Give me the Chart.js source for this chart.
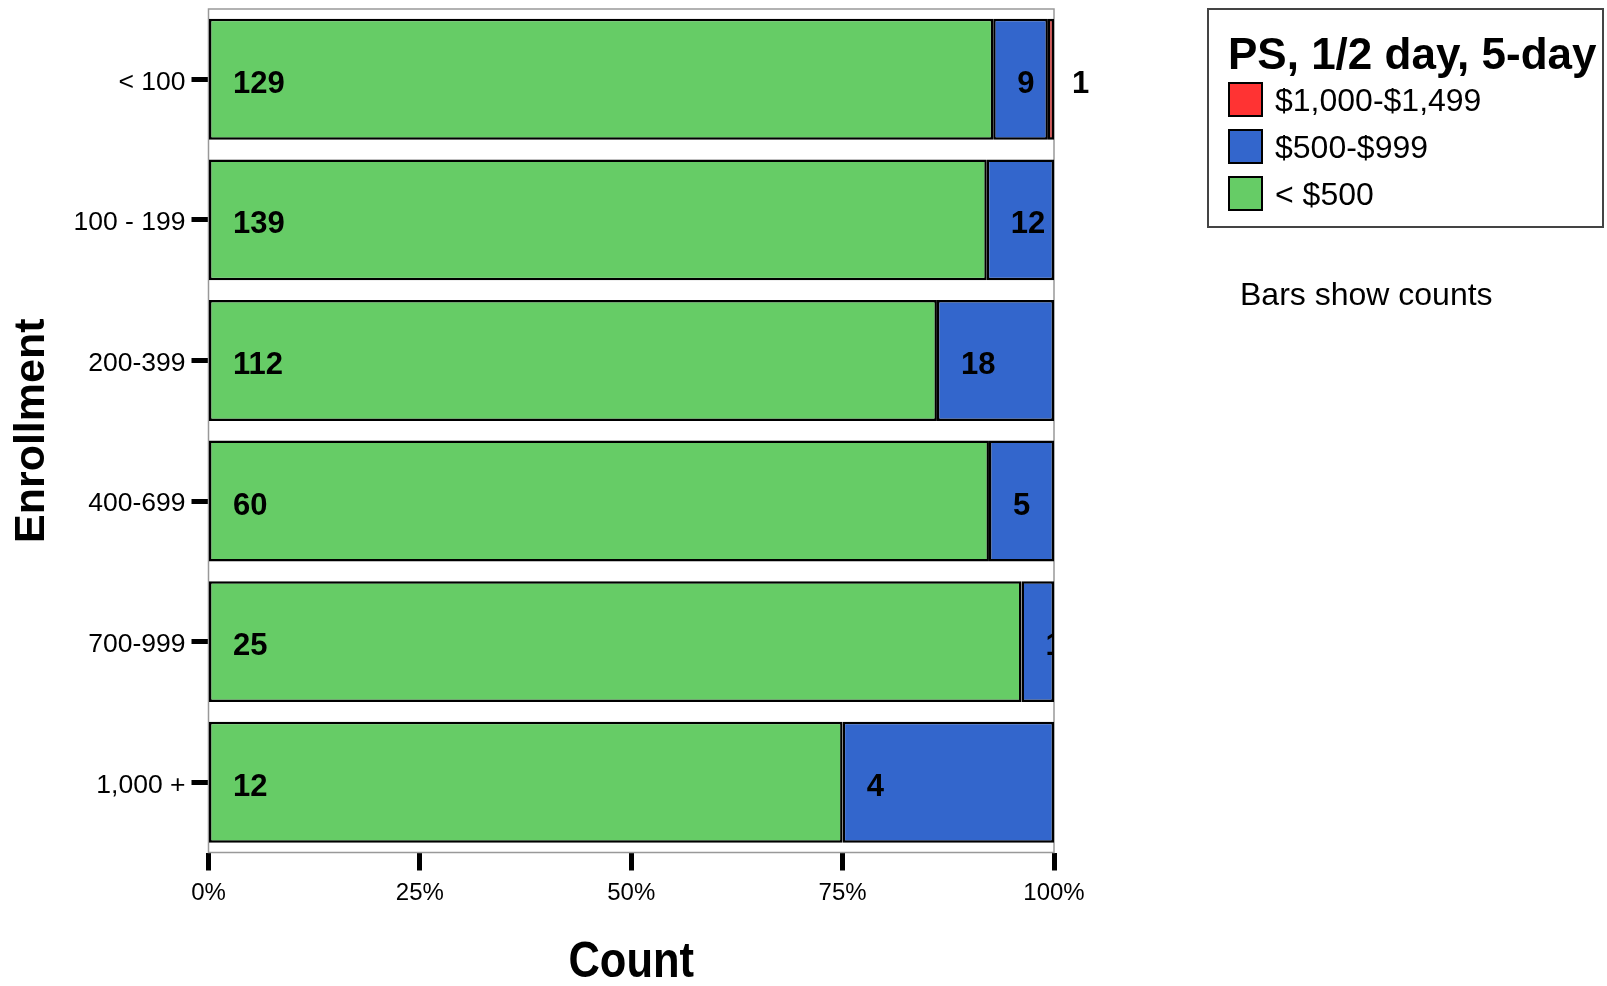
<!DOCTYPE html>
<html>
<head>
<meta charset="utf-8">
<script src="https://cdn.jsdelivr.net/npm/chart.js@4.4.1/dist/chart.umd.min.js"></script>
<style>
  html, body { margin: 0; padding: 0; background: #fff; }
  #wrap { position: relative; width: 1607px; height: 986px; font-family: 'Liberation Sans', Arial, sans-serif; }
  #chart { position: absolute; left: 0; top: 0; }
  #legendBox { position: absolute; left: 1207px; top: 8px; width: 397px; height: 220px;
               border: 2px solid #444; box-sizing: border-box; }
  .legTitle { position: absolute; left: 1228px; top: 54px; transform: translateY(-50%);
              font-weight: bold; font-size: 44px; line-height: 1; white-space: nowrap; }
  .legSwatch { position: absolute; left: 1228px; width: 35px; height: 35px;
               border: 2px solid #000; box-sizing: border-box; }
  .legText { position: absolute; left: 1275px; font-size: 32px; line-height: 1;
             transform: translateY(-50%); white-space: nowrap; }
  #note { position: absolute; left: 1240px; top: 294px; transform: translateY(-50%);
          font-size: 32px; line-height: 1; white-space: nowrap; }
</style>
</head>
<body>
<div id="wrap">
  <canvas id="chart" width="1607" height="986"></canvas>
  <div id="legendBox"></div>
  <div class="legTitle">PS, 1/2 day, 5-day</div>
  <div id="note">Bars show counts</div>
</div>
<script>
// Enrollment groups, top to bottom
const categories = ['< 100', '100 - 199', '200-399', '400-699', '700-999', '1,000 +'];

// counts per cost band
const countUnder500 = [129, 139, 112, 60, 25, 12];
const count500to999 = [9, 12, 18, 5, 1, 4];
const count1000to1499 = [1, 0, 0, 0, 0, 0];

const seriesNames = ['< $500', '$500-$999', '$1,000-$1,499'];
const seriesColors = ['#66cc66', '#3366cc', '#ff3333'];

const xTickValues = [0, 25, 50, 75, 100];
const xTickLabels = ['0%', '25%', '50%', '75%', '100%'];
const xTitle = 'Count';

const FONT = "'Liberation Sans', Arial, sans-serif";

// bars are 100% stacked: each row is shown as share of its total
const totals = categories.map(function (c, i) {
    return countUnder500[i] + count500to999[i] + count1000to1499[i];
});
function toPct(arr) {
    return arr.map(function (v, i) { return v / totals[i] * 100; });
}
const seriesCounts = [countUnder500, count500to999, count1000to1499];

// grey frame round the plot area
const framePlugin = {
    id: 'frame',
    beforeDatasetsDraw(chart) {
        const a = chart.chartArea;
        const ctx = chart.ctx;
        ctx.save();
        ctx.strokeStyle = '#999';
        ctx.lineWidth = 1.5;
        ctx.strokeRect(a.left, a.top, a.right - a.left, a.bottom - a.top);
        ctx.restore();
    }
};

// x title in a narrow bold face (no condensed font installed, so squeeze it)
const narrowTitle = {
    id: 'narrowTitle',
    afterDraw(chart) {
        const a = chart.chartArea;
        const ctx = chart.ctx;
        ctx.save();
        ctx.translate((a.left + a.right) / 2, 963);
        ctx.scale(0.87, 1);
        ctx.fillStyle = '#000';
        ctx.font = 'bold 50px ' + FONT;
        ctx.textAlign = 'center';
        ctx.textBaseline = 'middle';
        ctx.fillText(xTitle, 0, 0);
        ctx.restore();
    }
};

// count labels, placed a fixed distance from the segment start
const countLabels = {
    id: 'countLabels',
    afterDatasetsDraw(chart) {
        const ctx = chart.ctx;
        const a = chart.chartArea;
        chart.data.datasets.forEach(function (ds, di) {
            const meta = chart.getDatasetMeta(di);
            meta.data.forEach(function (bar, i) {
                const n = ds.counts[i];
                if (!n) return;
                ctx.save();
                if (ds.clipLabels) {
                    ctx.beginPath();
                    ctx.rect(a.left, a.top, a.right - a.left, a.bottom - a.top);
                    ctx.clip();
                }
                ctx.fillStyle = '#000';
                ctx.font = 'bold 31px ' + FONT;
                ctx.textAlign = 'left';
                ctx.textBaseline = 'middle';
                ctx.fillText(String(n), Math.min(bar.base, bar.x) + 24, bar.y + 5);
                ctx.restore();
            });
        });
    }
};

const datasets = seriesNames.map(function (name, k) {
    return {
        label: name,
        data: toPct(seriesCounts[k]),
        counts: seriesCounts[k],
        clipLabels: k < 2,
        backgroundColor: seriesColors[k],
        borderColor: '#000',
        borderWidth: 2.5,
        borderSkipped: false,
        barPercentage: 0.86,
        categoryPercentage: 1.0,
    };
});

new Chart(document.getElementById('chart'), {
    type: 'bar',
    data: { labels: categories, datasets: datasets },
    plugins: [framePlugin, countLabels, narrowTitle],
    options: {
        indexAxis: 'y',
        responsive: false,
        animation: false,
        devicePixelRatio: 1,
        layout: { padding: { left: 0, top: 9, right: 553, bottom: 0 } },
        plugins: {
            legend: { display: false },
            tooltip: { enabled: false },
        },
        scales: {
            x: {
                stacked: true,
                min: 0,
                max: 100,
                afterFit: function (s) {
                    s.height = 133.5;
                    s.paddingLeft = 0;
                    s.paddingRight = 0;
                },
                afterBuildTicks: function (s) {
                    s.ticks = xTickValues.map(function (v) { return { value: v }; });
                },
                border: { display: false },
                grid: { drawOnChartArea: false, tickLength: 18, tickWidth: 5, tickColor: '#000' },
                ticks: {
                    color: '#000',
                    padding: 8,
                    font: { family: FONT, size: 24 },
                    callback: function (v, idx) { return xTickLabels[idx]; },
                },
                title: { display: false, text: xTitle },
            },
            y: {
                stacked: true,
                afterFit: function (s) {
                    s.width = 208.5;
                    s.paddingTop = 0;
                    s.paddingBottom = 0;
                },
                border: { display: false },
                grid: { drawOnChartArea: false, offset: false, tickLength: 17, tickWidth: 5, tickColor: '#000' },
                ticks: {
                    color: '#000',
                    padding: 6,
                    labelOffset: 3,
                    font: { family: FONT, size: 26.5 },
                },
                title: {
                    display: true,
                    text: 'Enrollment',
                    color: '#000',
                    padding: { top: 6, bottom: 0 },
                    font: { family: FONT, size: 43, weight: 'bold', lineHeight: 1.2 },
                },
            },
        },
    },
});

// legend, top entry is the last stacked series
const wrap = document.getElementById('wrap');
const swatchTops = [82, 129, 176];
seriesNames.slice().reverse().forEach(function (name, j) {
    const k = seriesNames.length - 1 - j;
    const sw = document.createElement('div');
    sw.className = 'legSwatch';
    sw.style.top = swatchTops[j] + 'px';
    sw.style.background = seriesColors[k];
    wrap.appendChild(sw);
    const tx = document.createElement('div');
    tx.className = 'legText';
    tx.style.top = (swatchTops[j] + 17.5) + 'px';
    tx.textContent = name;
    wrap.appendChild(tx);
});
</script>
</body>
</html>
